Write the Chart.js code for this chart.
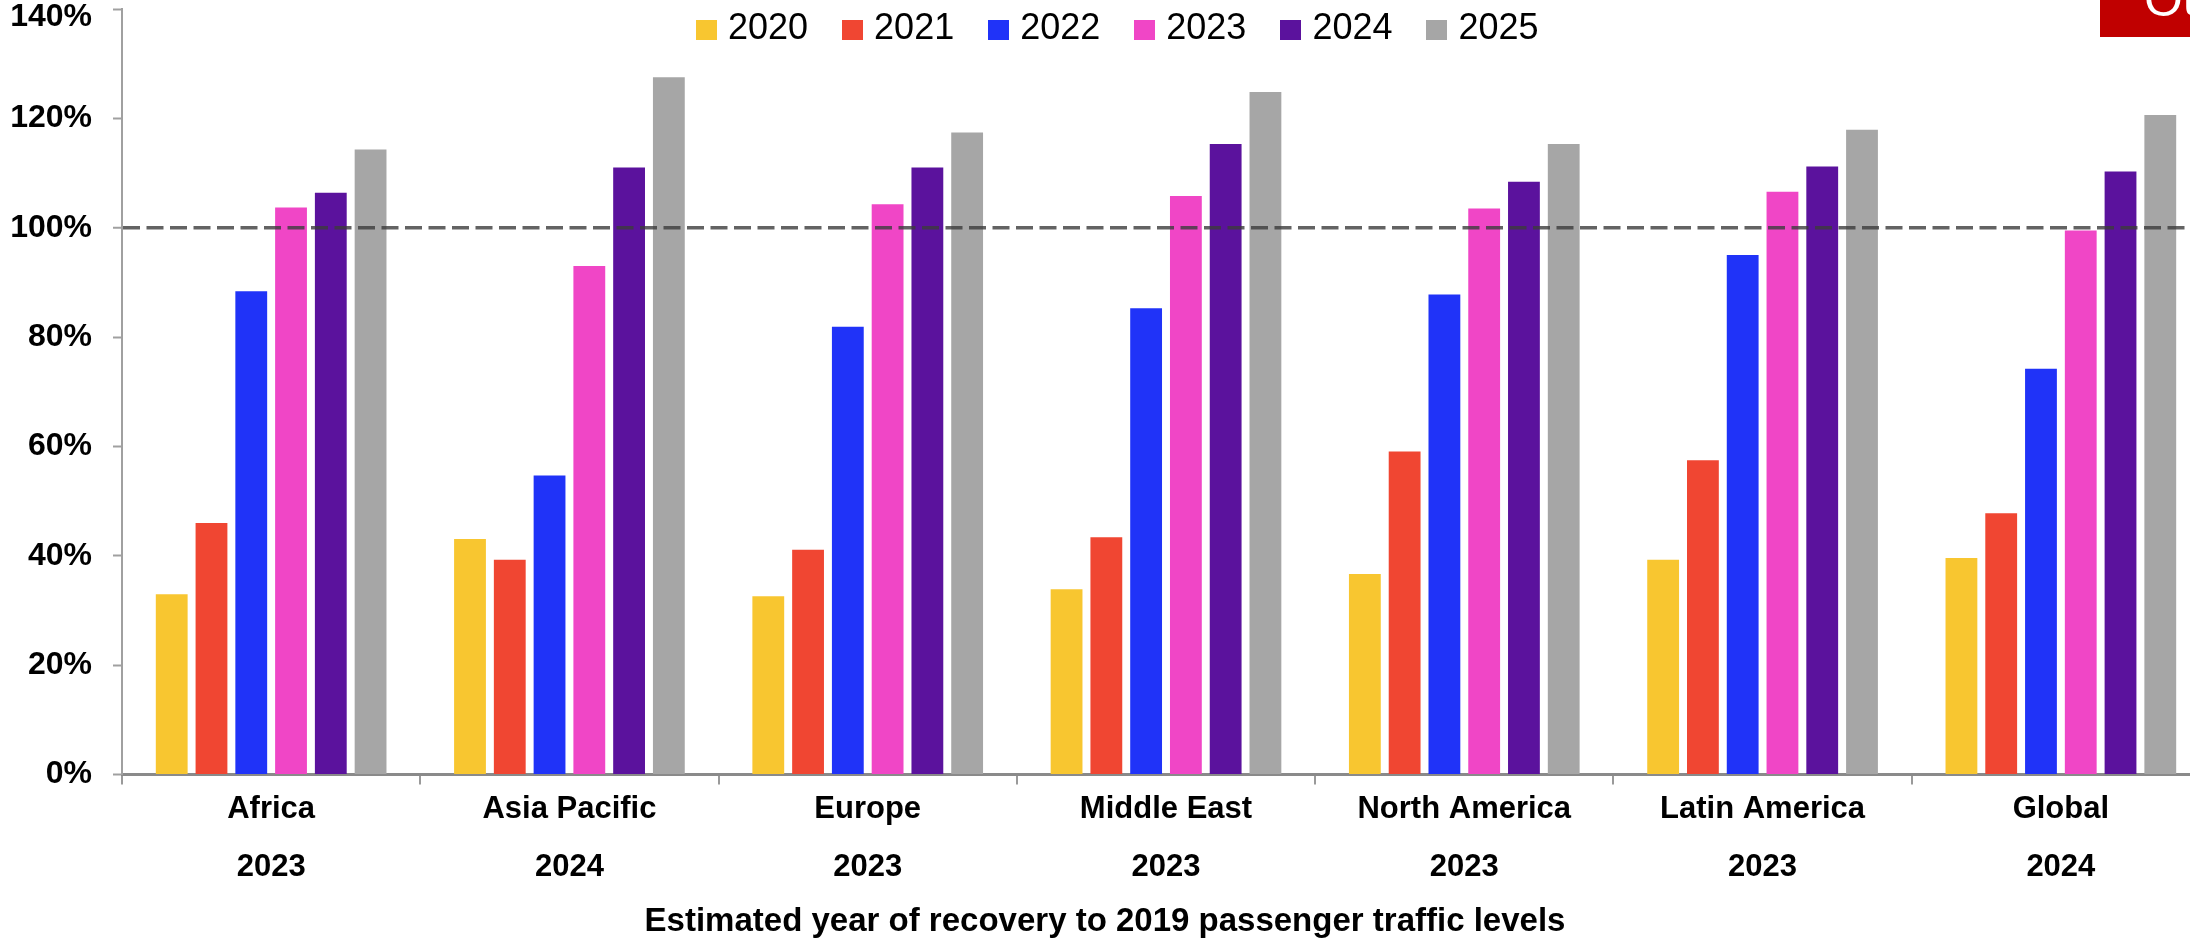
<!DOCTYPE html>
<html>
<head>
<meta charset="utf-8">
<title>Passenger traffic recovery vs 2019</title>
<script src="https://cdn.jsdelivr.net/npm/chart.js@4.4.1/dist/chart.umd.min.js"></script>
<style>
    html, body { margin: 0; padding: 0; background: #fff; overflow: hidden; }
    #wrap { position: relative; width: 2190px; height: 938px; overflow: hidden; }
    #chart { position: absolute; left: 0; top: 0; }
    #legend {
        position: absolute; left: 696px; top: 9px;
        display: flex; gap: 34px;
        font: 36px "Liberation Sans", Arial, sans-serif; color: #000;
        line-height: 36px;
    }
    #legend .item { display: flex; align-items: center; }
    #legend .box { width: 21px; height: 20px; margin-right: 11px; margin-top: 6px; }
    #badge {
        position: absolute; left: 2100px; top: 0; width: 90px; height: 37px;
        background: #c00000; overflow: hidden;
    }
    #badge span {
        position: absolute; left: 44px; top: -30px;
        font: 50px "Liberation Sans", Arial, sans-serif; color: #fff; white-space: nowrap;
    }
</style>
</head>
<body>
<div id="wrap">
    <canvas id="chart" width="2210" height="942"></canvas>
    <div id="legend"></div>
    <div id="badge"><span>Ou</span></div>
</div>
<script>
// categories + the recovery year shown under each one
const regions = ['Africa', 'Asia Pacific', 'Europe', 'Middle East', 'North America', 'Latin America', 'Global'];
const recoveryYears = ['2023', '2024', '2023', '2023', '2023', '2023', '2024'];

// % of 2019 passenger traffic, one array per year
const seriesYears = ['2020', '2021', '2022', '2023', '2024', '2025'];
const values2020 = [33, 43.1, 32.6, 33.9, 36.7, 39.3, 39.6];
const values2021 = [46, 39.3, 41.1, 43.4, 59.1, 57.5, 47.8];
const values2022 = [88.4, 54.7, 81.9, 85.3, 87.8, 95, 74.2];
const values2023 = [103.7, 93, 104.3, 105.8, 103.5, 106.6, 99.5];
const values2024 = [106.4, 111, 111, 115.3, 108.4, 111.2, 110.3];
const values2025 = [114.3, 127.5, 117.4, 124.8, 115.3, 117.9, 120.6];

const yTicks = [0, 20, 40, 60, 80, 100, 120, 140];
const yMax = 140;
const baselineValue = 100;
const axisTitle = 'Estimated year of recovery to 2019 passenger traffic levels';

const seriesColors = ['#f8c630', '#f04632', '#2033f8', '#f046c6', '#5b129d', '#a6a6a6'];
const seriesValues = [values2020, values2021, values2022, values2023, values2024, values2025];

Chart.defaults.font.family = '"Liberation Sans", Arial, sans-serif';
Chart.defaults.color = '#000';

/**
 * Legend drawn as html so it can sit inside the plot area like the original
 */
const htmlLegend = {
    id: 'htmlLegend',
    afterUpdate(chart) {
        const box = document.getElementById('legend');
        box.innerHTML = '';
        const items = chart.options.plugins.legend.labels.generateLabels(chart);
        items.forEach((item) => {
            const el = document.createElement('div');
            el.className = 'item';
            const swatch = document.createElement('span');
            swatch.className = 'box';
            swatch.style.background = item.fillStyle;
            const text = document.createElement('span');
            text.textContent = item.text;
            el.appendChild(swatch);
            el.appendChild(text);
            box.appendChild(el);
        });
    }
};

const isTop = (ctx) => ctx.tick && ctx.tick.value === yMax;

new Chart(document.getElementById('chart'), {
    type: 'bar',
    data: {
        labels: regions.map((r, i) => [r, recoveryYears[i]]),
        datasets: seriesYears.map((year, i) => ({
            label: year,
            data: seriesValues[i],
            backgroundColor: seriesColors[i],
            borderWidth: 0,
            categoryPercentage: 0.8,
            barPercentage: 0.8
        }))
    },
    options: {
        responsive: false,
        devicePixelRatio: 1,
        animation: false,
        layout: { padding: { top: 9, left: 0, right: 0, bottom: 0 } },
        plugins: {
            legend: { display: false },
            tooltip: { enabled: false },
            title: {
                display: true,
                text: axisTitle,
                position: 'bottom',
                color: '#000',
                font: { size: 33, weight: 'bold' },
                padding: { top: 10, bottom: 0 }
            }
        },
        scales: {
            x: {
                grid: {
                    drawOnChartArea: false,
                    drawTicks: true,
                    tickLength: 10,
                    color: '#9a9a9a',
                    lineWidth: 2
                },
                border: { color: '#8a8a8a', width: 3 },
                ticks: {
                    color: '#000',
                    font: { size: 31, weight: 'bold', lineHeight: 1.9 },
                    padding: -5,
                    maxRotation: 0,
                    autoSkip: false
                }
            },
            y: {
                min: 0,
                max: yMax,
                afterBuildTicks: (scale) => {
                    scale.ticks = yTicks.map((v) => ({ value: v }));
                },
                // fixed axis width, and let the top label hang over the edge
                afterFit: (scale) => {
                    scale.width = 122;
                    scale.paddingTop = 0;
                    scale.paddingBottom = 0;
                },
                grid: {
                    z: 1,
                    color: (ctx) => ctx.tick && ctx.tick.value === baselineValue ? 'rgba(60, 60, 60, 0.8)' : 'rgba(0, 0, 0, 0)',
                    lineWidth: (ctx) => ctx.tick && ctx.tick.value === baselineValue ? 3.5 : 1,
                    tickColor: '#a0a0a0',
                    tickWidth: 2,
                    tickLength: 9
                },
                border: { z: 1, color: '#a0a0a0', width: 2, dash: [17, 6.5] },
                ticks: {
                    color: '#000',
                    // top label sits a little below its tick so it isn't cut off
                    font: (ctx) => ({ size: 32, weight: 'bold', lineHeight: isTop(ctx) ? 0.5 : 1.2 }),
                    padding: 21,
                    callback: (v) => v === yMax ? ['', v + '%'] : v + '%'
                }
            }
        }
    },
    plugins: [htmlLegend]
});
</script>
</body>
</html>
